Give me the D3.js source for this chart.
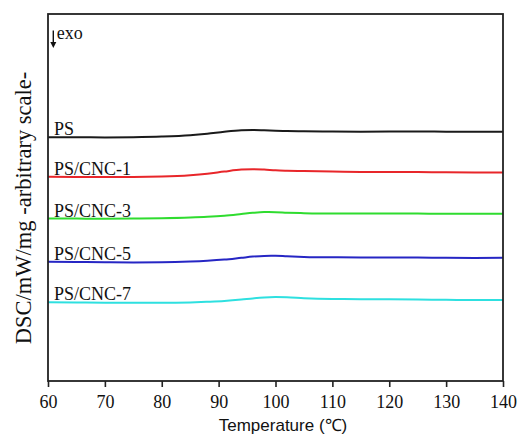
<!DOCTYPE html>
<html>
<head>
<meta charset="utf-8">
<script src="https://cdn.jsdelivr.net/npm/d3@7"></script>
<style>
  html, body { margin: 0; padding: 0; background: #fff; }
  svg { display: block; }
</style>
</head>
<body>
<svg id="chart" width="518" height="436"></svg>
<script>
// DSC heating traces (arbitrary, vertically offset scale)
const temperatures = [60, 65, 70, 75, 80, 85, 88, 91, 94, 96, 98, 100, 102, 105, 110, 115, 120, 125, 130, 135, 140];

const seriesNames = ["PS", "PS/CNC-1", "PS/CNC-3", "PS/CNC-5", "PS/CNC-7"];
const seriesColors = ["#1a1a1a", "#e8262a", "#2fdc2f", "#2626c4", "#2ee0e0"];

const psValues    = [24.37, 24.37, 24.36, 24.38, 24.44, 24.57, 24.72, 24.92, 25.07, 25.10, 25.07, 25.03, 25.00, 24.97, 24.95, 24.93, 24.94, 24.96, 24.93, 24.92, 24.93];
const cnc1Values  = [20.42, 20.41, 20.40, 20.40, 20.44, 20.57, 20.72, 20.94, 21.14, 21.18, 21.14, 21.07, 21.03, 20.99, 20.94, 20.91, 20.90, 20.89, 20.87, 20.86, 20.86];
const cnc3Values  = [16.25, 16.24, 16.23, 16.25, 16.28, 16.35, 16.42, 16.53, 16.70, 16.82, 16.89, 16.88, 16.83, 16.78, 16.74, 16.74, 16.75, 16.74, 16.72, 16.73, 16.73];
const cnc5Values  = [11.93, 11.90, 11.87, 11.86, 11.87, 11.94, 12.02, 12.14, 12.32, 12.44, 12.51, 12.52, 12.47, 12.41, 12.37, 12.36, 12.36, 12.34, 12.32, 12.30, 12.32];
const cnc7Values  = [7.87, 7.85, 7.83, 7.82, 7.82, 7.86, 7.92, 8.00, 8.14, 8.26, 8.35, 8.39, 8.37, 8.28, 8.20, 8.18, 8.17, 8.14, 8.12, 8.09, 8.09];

const xTicks = [60, 70, 80, 90, 100, 110, 120, 130, 140];

const seriesValues = [psValues, cnc1Values, cnc3Values, cnc5Values, cnc7Values];

const margin = { left: 48, right: 15, top: 14, bottom: 55 };
const width = 518, height = 436;
const plotW = width - margin.left - margin.right;
const plotH = height - margin.top - margin.bottom;

const svg = d3.select("#chart");
const g = svg.append("g").attr("transform", `translate(${margin.left},${margin.top})`);

const x = d3.scaleLinear().domain([60, 140]).range([0, plotW]);
const y = d3.scaleLinear().domain([0, 36.7]).range([plotH, 0]);

const line = d3.line()
  .x(d => x(d[0]))
  .y(d => y(d[1]))
  .curve(d3.curveMonotoneX);

// traces
seriesValues.forEach((vals, i) => {
  const pts = temperatures.map((t, k) => [t, vals[k]]);
  g.append("path")
    .datum(pts)
    .attr("fill", "none")
    .attr("stroke", seriesColors[i])
    .attr("stroke-width", 2)
    .attr("d", line);

  g.append("text")
    .attr("x", x(61.05))
    .attr("y", y(vals[0]) - 2)
    .attr("font-family", "'Liberation Serif', 'Times New Roman', serif")
    .attr("font-size", 18)
    .attr("fill", "#111")
    .text(seriesNames[i]);
});

// x axis
const xAxis = d3.axisBottom(x)
  .tickValues(xTicks)
  .tickSize(6)
  .tickPadding(8)
  .tickSizeOuter(0);

const ax = g.append("g")
  .attr("transform", `translate(0,${plotH})`)
  .call(xAxis);
ax.select(".domain").remove();
ax.selectAll(".tick line").attr("stroke", "#222").attr("stroke-width", 1.6);
ax.selectAll(".tick text")
  .attr("font-family", "'Liberation Serif', 'Times New Roman', serif")
  .attr("font-size", 18)
  .attr("fill", "#111");

// frame
g.append("rect")
  .attr("x", 0).attr("y", 0)
  .attr("width", plotW).attr("height", plotH)
  .attr("fill", "none")
  .attr("stroke", "#222")
  .attr("stroke-width", 1.8);

// exotherm direction marker
const ax0 = x(60) + 5.3;
g.append("line")
  .attr("x1", ax0).attr("x2", ax0)
  .attr("y1", 16.5).attr("y2", 29)
  .attr("stroke", "#111").attr("stroke-width", 1.4);
g.append("path")
  .attr("d", `M${ax0 - 3},${28} L${ax0 + 3},${28} L${ax0},${34} Z`)
  .attr("fill", "#111");
g.append("text")
  .attr("x", ax0 + 3.5)
  .attr("y", 24.5)
  .attr("font-family", "'Liberation Serif', 'Times New Roman', serif")
  .attr("font-size", 18)
  .attr("fill", "#111")
  .text("exo");

// axis titles
svg.append("text")
  .attr("x", 283)
  .attr("y", 431)
  .attr("text-anchor", "middle")
  .attr("font-family", "'Liberation Sans', Arial, sans-serif")
  .attr("font-size", 17)
  .attr("fill", "#111")
  .text("Temperature (℃)");

svg.append("text")
  .attr("transform", "translate(31,208) rotate(-90)")
  .attr("text-anchor", "middle")
  .attr("font-family", "'Liberation Serif', 'Times New Roman', serif")
  .attr("font-size", 22.5)
  .attr("fill", "#111")
  .text("DSC/mW/mg -arbitrary scale-");
</script>
</body>
</html>
